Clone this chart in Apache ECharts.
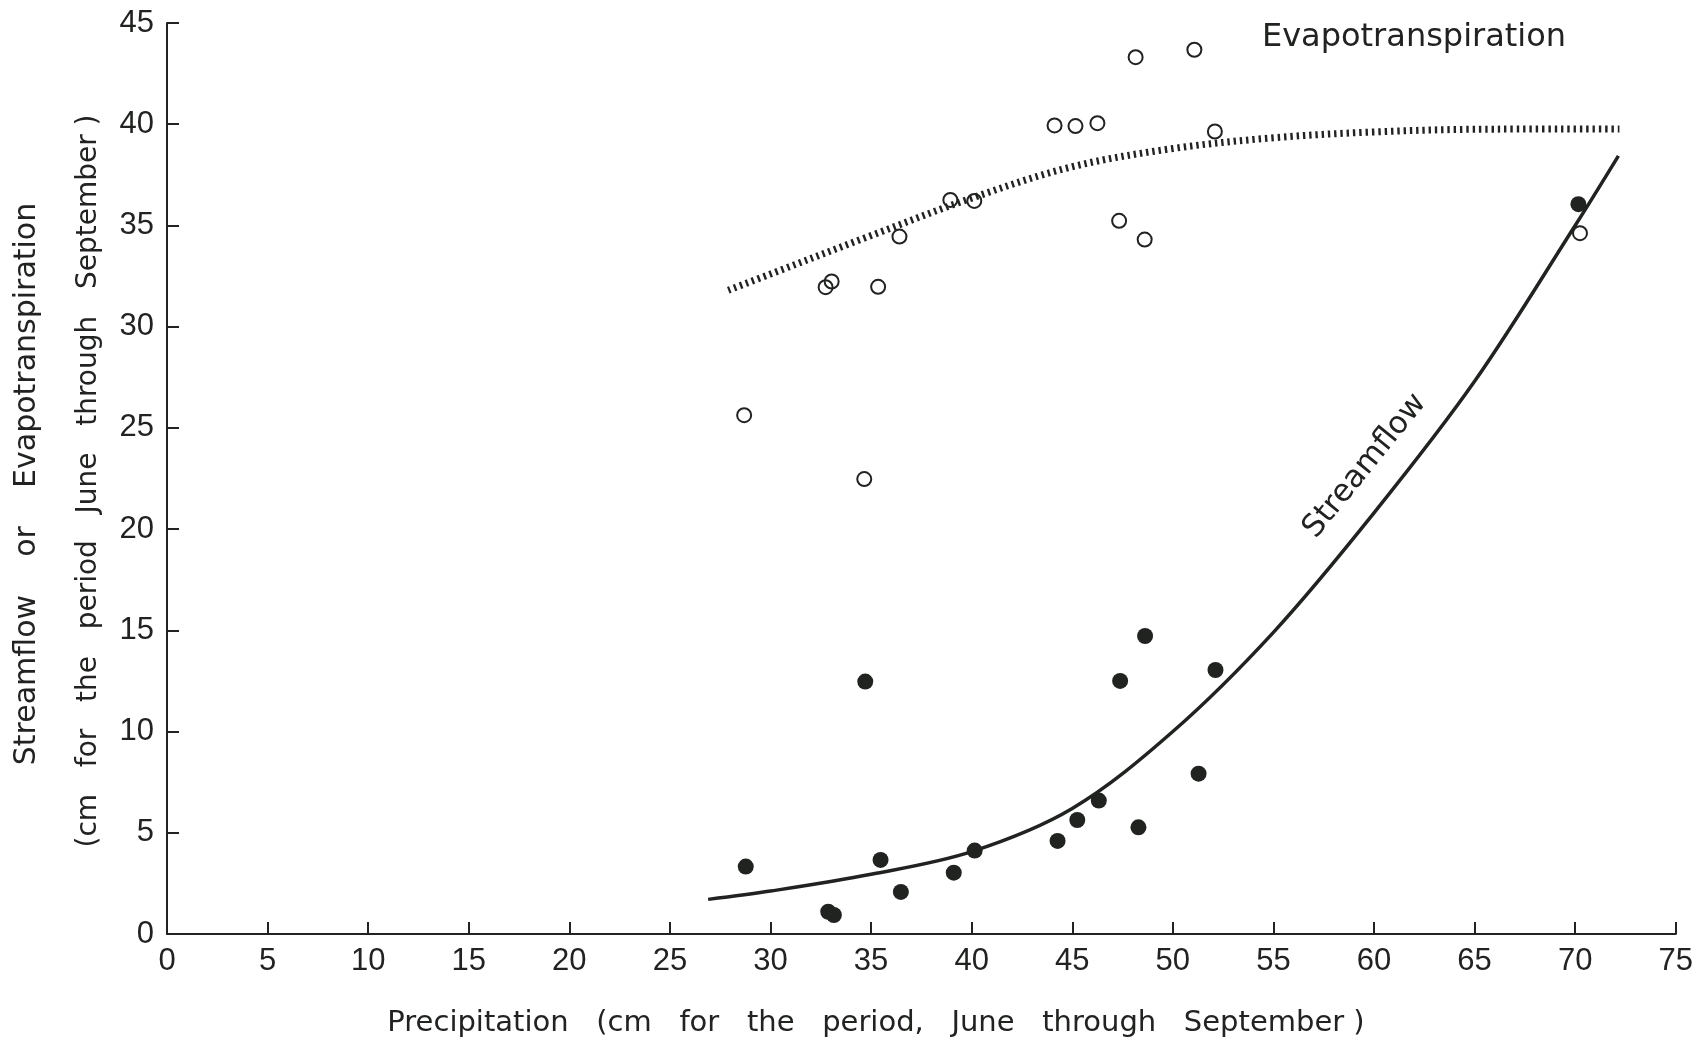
<!DOCTYPE html>
<html>
<head>
<meta charset="utf-8">
<script src="https://cdn.jsdelivr.net/npm/echarts@6/dist/echarts.min.js"></script>
<style>
  html, body { margin: 0; padding: 0; background: #ffffff; }
  #chart { width: 1696px; height: 1040px; }
</style>
</head>
<body>
<div id="chart"></div>
<script>
// ---- Data ----
// Streamflow observations (filled dots)
const sfX = [28.77, 32.87, 33.15, 34.71, 35.47, 36.48, 39.11, 40.15, 44.27, 45.25, 46.32, 47.38, 48.29, 48.62, 51.28, 52.12, 70.16];
const sfY = [3.33, 1.10, 0.94, 12.47, 3.66, 2.08, 3.03, 4.12, 4.60, 5.63, 6.59, 12.50, 5.27, 14.72, 7.92, 13.04, 36.05];
// Evapotranspiration observations (open circles)
const etX = [28.69, 34.66, 32.74, 33.04, 35.35, 36.41, 38.94, 40.13, 44.12, 45.16, 46.25, 47.33, 48.15, 48.60, 51.07, 52.09, 70.24];
const etY = [25.63, 22.47, 31.95, 32.23, 31.97, 34.45, 36.26, 36.21, 39.94, 39.91, 40.05, 35.23, 43.31, 34.30, 43.68, 39.64, 34.62];
// Fitted streamflow curve (solid)
const sfCurveX = [26.9, 30, 35, 40, 45, 50, 55, 60, 65, 70, 72.15];
const sfCurveY = [1.71, 2.12, 2.95, 4.07, 6.2, 10.0, 14.9, 20.8, 27.3, 35.0, 38.44];
// Fitted evapotranspiration curve (dotted)
const etCurveX = [27.9, 30, 35, 40, 45, 50, 55, 60, 65, 72.2];
const etCurveY = [31.8, 32.6, 34.5, 36.35, 37.9, 38.8, 39.33, 39.62, 39.75, 39.77];
// Axis ticks
const xTicks = [0, 5, 10, 15, 20, 25, 30, 35, 40, 45, 50, 55, 60, 65, 70, 75];
const yTicks = [0, 5, 10, 15, 20, 25, 30, 35, 40, 45];

const ink = '#202320';
const tickFont = '"Liberation Sans", "DejaVu Sans", sans-serif';
const textFont = '"DejaVu Sans", sans-serif';

const zip = (xs, ys) => xs.map((x, i) => [x, ys[i]]);

const chart = echarts.init(document.getElementById('chart'), null, { renderer: 'canvas' });

const option = {
  backgroundColor: '#ffffff',
  animation: false,
  grid: { left: 167, right: 18, top: 23, bottom: 106, containLabel: false },
  xAxis: {
    type: 'value',
    min: xTicks[0],
    max: xTicks[xTicks.length - 1],
    interval: 5,
    axisLine: { show: true, onZero: false, lineStyle: { color: ink, width: 2 } },
    axisTick: { show: true, inside: true, length: 12, lineStyle: { color: ink, width: 2 } },
    axisLabel: { color: ink, fontFamily: tickFont, fontSize: 31, margin: 12 },
    splitLine: { show: false }
  },
  yAxis: {
    type: 'value',
    min: yTicks[0],
    max: yTicks[yTicks.length - 1],
    interval: 5,
    axisLine: { show: true, onZero: false, lineStyle: { color: ink, width: 2 } },
    axisTick: { show: true, inside: true, length: 12, lineStyle: { color: ink, width: 2 } },
    axisLabel: { color: ink, fontFamily: tickFont, fontSize: 31, margin: 13 },
    splitLine: { show: false }
  },
  series: [
    {
      name: 'Evapotranspiration curve',
      type: 'line',
      data: zip(etCurveX, etCurveY),
      smooth: 0.34,
      showSymbol: false,
      lineStyle: { color: ink, width: 7, type: [2.4, 3.9], cap: 'butt' },
      z: 2
    },
    {
      name: 'Streamflow curve',
      type: 'line',
      data: zip(sfCurveX, sfCurveY),
      smooth: 0.34,
      showSymbol: false,
      lineStyle: { color: ink, width: 3.5 },
      z: 2
    },
    {
      name: 'Streamflow',
      type: 'scatter',
      data: zip(sfX, sfY),
      symbol: 'circle',
      symbolSize: 16,
      itemStyle: { color: ink, opacity: 1 },
      z: 3
    },
    {
      name: 'Evapotranspiration',
      type: 'scatter',
      data: zip(etX, etY),
      symbol: 'circle',
      symbolSize: 14,
      itemStyle: { color: 'rgba(255,255,255,0)', borderColor: ink, borderWidth: 2, opacity: 1 },
      z: 3
    }
  ],
  graphic: [
    {
      type: 'text', x: 876, y: 1023,
      style: {
        text: 'Precipitation   (cm   for   the   period,   June   through   September )',
        fill: ink, font: '29px ' + textFont, align: 'center', verticalAlign: 'middle'
      }
    },
    {
      type: 'text', x: 27, y: 484, rotation: Math.PI / 2,
      style: {
        text: 'Streamflow    or    Evapotranspiration',
        fill: ink, font: '30px ' + textFont, align: 'center', verticalAlign: 'middle'
      }
    },
    {
      type: 'text', x: 89, y: 481, rotation: Math.PI / 2,
      style: {
        text: '(cm   for   the   period   June   through   September )',
        fill: ink, font: '28px ' + textFont, align: 'center', verticalAlign: 'middle'
      }
    },
    {
      type: 'text', x: 1414, y: 38,
      style: {
        text: 'Evapotranspiration',
        fill: ink, font: '32px ' + textFont, align: 'center', verticalAlign: 'middle'
      }
    },
    {
      type: 'text', x: 1365, y: 466, rotation: 50.9 * Math.PI / 180,
      style: {
        text: 'Streamflow',
        fill: ink, font: '31px ' + textFont, align: 'center', verticalAlign: 'middle'
      }
    }
  ]
};

chart.setOption(option);
</script>
</body>
</html>
